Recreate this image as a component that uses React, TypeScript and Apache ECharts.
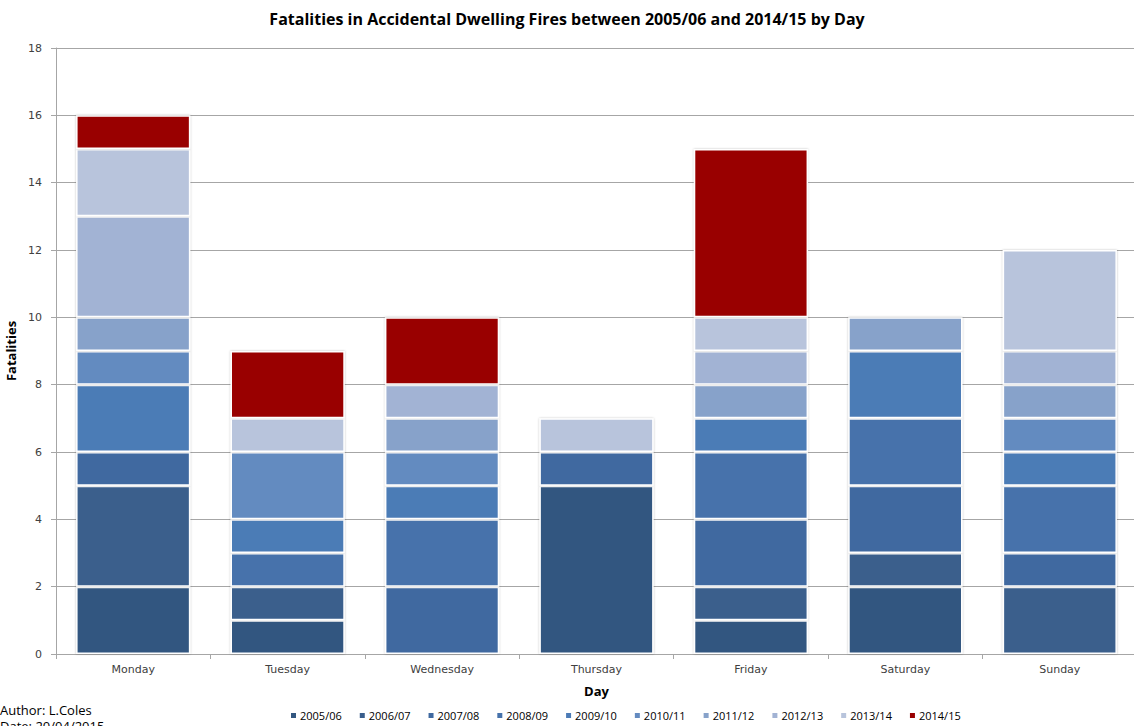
import React, { useEffect, useRef } from "react";
import * as echarts from "echarts";

const days = ["Monday", "Tuesday", "Wednesday", "Thursday", "Friday", "Saturday", "Sunday"];
const seriesNames = ["2005/06", "2006/07", "2007/08", "2008/09", "2009/10", "2010/11", "2011/12", "2012/13", "2013/14", "2014/15"];
const colors = ["#335780", "#3a5e8c", "#3f69a0", "#4672ab", "#4c7bb6", "#648bc0", "#87a2ca", "#a2b3d4", "#b8c4dc", "#990000"];
const v0506 = [2, 1, 0, 5, 1, 2, 0];
const v0607 = [3, 1, 0, 0, 1, 1, 2];
const v0708 = [1, 0, 2, 1, 2, 2, 1];
const v0809 = [0, 1, 2, 0, 2, 2, 2];
const v0910 = [2, 1, 1, 0, 1, 2, 1];
const v1011 = [1, 2, 1, 0, 0, 0, 1];
const v1112 = [1, 0, 1, 0, 1, 1, 1];
const v1213 = [3, 0, 1, 0, 1, 0, 1];
const v1314 = [2, 1, 0, 1, 1, 0, 3];
const v1415 = [1, 2, 2, 0, 5, 0, 0];
const values = [v0506, v0607, v0708, v0809, v0910, v1011, v1112, v1213, v1314, v1415];

export default function App() {
  const ref = useRef<HTMLDivElement>(null);
  useEffect(() => {
    const chart = echarts.init(ref.current!, null, { renderer: "svg" });
    const font = "Open Sans";
    chart.setOption({
      animation: false,
      title: {
        text: "Fatalities in Accidental Dwelling Fires between 2005/06 and 2014/15 by Day",
        left: "center",
        top: 6,
        textStyle: { fontFamily: font, fontWeight: "bold", fontSize: 16, color: "#000" },
      },
      grid: { left: 56, right: -3, top: 48, bottom: 72, containLabel: false, outerBoundsMode: "none" },
      legend: {
        bottom: 0,
        left: 284,
        itemWidth: 7,
        itemHeight: 7,
        itemGap: 16,
        icon: "rect",
        textStyle: { fontFamily: font, fontSize: 11, color: "#000", padding: [0, 0, 0, -2] },
        data: seriesNames,
      },
      xAxis: {
        type: "category",
        data: days,
        name: "Day",
        nameLocation: "middle",
        nameGap: 30,
        nameTextStyle: { fontFamily: font, fontWeight: "bold", fontSize: 13, color: "#000" },
        axisLine: { lineStyle: { color: "#a6a6a6" } },
        axisTick: { show: true, alignWithLabel: false, length: 5, lineStyle: { color: "#a6a6a6" } },
        axisLabel: { fontFamily: "DejaVu Sans", fontSize: 11, color: "#404040", margin: 10 },
      },
      yAxis: {
        type: "value",
        min: 0,
        max: 18,
        interval: 2,
        name: "Fatalities",
        nameLocation: "middle",
        nameGap: 28,
        nameTextStyle: { fontFamily: font, fontWeight: "bold", fontSize: 13, color: "#000" },
        axisLine: { show: true, lineStyle: { color: "#a6a6a6" } },
        axisTick: { show: true, length: 5, lineStyle: { color: "#a6a6a6" } },
        axisLabel: { fontFamily: "DejaVu Sans", fontSize: 11, color: "#404040", margin: 14 },
        splitLine: { lineStyle: { color: "#a6a6a6", width: 1 } },
      },
      series: seriesNames.map((n, i) => ({
        name: n,
        type: "bar",
        stack: "total",
        data: values[i],
        barCategoryGap: "26%",
        itemStyle: {
          color: colors[i],
          borderColor: "#ffffff",
          borderWidth: 1.5,
          shadowColor: "rgba(0,0,0,0.25)",
          shadowBlur: 2,
        },
      })),
      graphic: [
        {
          type: "text",
          left: 0,
          top: 703,
          style: { text: "Author: L.Coles", font: "13px 'Open Sans'", fill: "#000" },
        },
        {
          type: "text",
          left: 0,
          top: 719,
          style: { text: "Date: 20/04/2015", font: "13px 'Open Sans'", fill: "#000" },
        },
      ],
    });
    return () => chart.dispose();
  }, []);
  return <div ref={ref} style={{ width: 1134, height: 726, position: "absolute", left: 0, top: 0 }} />;
}
